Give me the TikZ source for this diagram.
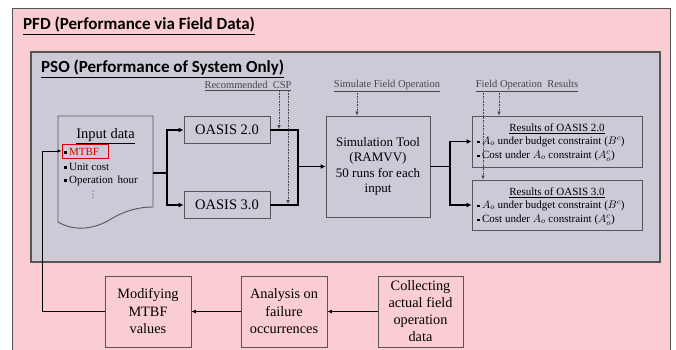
\documentclass[tikz,border=0pt]{standalone}
\usepackage{fontspec}
\setmainfont{Liberation Serif}
\newfontfamily\titlefont{Carlito}
\newfontfamily\symfont{DejaVu Sans}
\usetikzlibrary{arrows.meta}
\definecolor{pinkbg}{RGB}{249,205,209}
\definecolor{graybg}{RGB}{205,201,215}
\definecolor{edge}{RGB}{85,85,85}
\definecolor{labcol}{RGB}{70,70,70}
\begin{document}
\begin{tikzpicture}[x=1pt,y=-1pt,
  box/.style={draw=edge, line width=0.9pt, inner sep=0pt, align=center},
  flow/.style={line width=1.8pt, -{Latex[length=5pt,width=5pt]}},
  flowline/.style={line width=1.8pt},
  thinflow/.style={line width=1.1pt, -{Latex[length=4.5pt,width=4pt]}},
  dotarrow/.style={draw=labcol, densely dotted, line width=0.6pt, -{Latex[length=4pt,width=3.5pt]}},
  lab/.style={font=\fontsize{10.5}{12}\selectfont, text=labcol, inner sep=0pt},
  ttl/.style={font=\titlefont\bfseries\fontsize{17}{19}\selectfont, anchor=base west, inner sep=0pt},
  small/.style={font=\fontsize{11}{13}\selectfont, inner sep=0pt, anchor=base west},
  reslist/.style={font=\fontsize{11}{14}\selectfont, inner sep=0pt, anchor=north west, align=left}
]
\useasboundingbox (0,0) rectangle (676,350);
% frames
\draw[fill=pinkbg, draw=edge, line width=0.9pt] (12,8) rectangle (670,360);
\draw[fill=graybg, draw=edge, line width=1.1pt] (31,52) rectangle (660,262);
\node[ttl] (pfd) at (23,30) {\underline{PFD (Performance via Field Data)}};
\node[ttl] (pso) at (41,73) {\underline{PSO (Performance of System Only)}};

% input document
\draw[draw=edge, line width=0.9pt] (58,116) -- (58,222)
  .. controls (75,232) and (95,229) .. (111,219)
  .. controls (126,210) and (140,207) .. (153,207) -- (153,116) -- cycle;
\node[font=\fontsize{14.5}{17}\selectfont, inner sep=0pt] (inptitle) at (105.5,136) {\underline{Input data}};
\node[draw=red!85!black, line width=0.9pt, minimum width=46pt, minimum height=14pt, inner sep=0pt] (mtbf) at (85,151) {};
\newcommand{\bul}{\rule[0.28ex]{2.4pt}{2.4pt}\hspace{2.5pt}}
\node[small] (b1) at (64,155) {\bul\textcolor{red!85!black}{MTBF}};
\node[small] (b2) at (64,170) {\bul Unit cost};
\node[small] (b3) at (64,183) {\bul Operation\, hour};
\node[font=\symfont\fontsize{9}{10}\selectfont, inner sep=0pt, text=edge] (vd) at (93,195) {⋮};

% OASIS boxes
\node[box, minimum width=86pt, minimum height=27pt, font=\fontsize{14.5}{17}\selectfont] (o2) at (227,130) {OASIS 2.0};
\node[box, minimum width=86pt, minimum height=27pt, font=\fontsize{14.5}{17}\selectfont] (o3) at (227,205) {OASIS 3.0};

% simulation
\node[box, minimum width=104pt, minimum height=101pt, font=\fontsize{13}{15.5}\selectfont] (sim) at (378,166.5) {Simulation Tool\\(RAMVV)\\50 runs for each\\input};

% results
\node[box, minimum width=170pt, minimum height=51pt] (r2) at (557,141.5) {};
\node[box, minimum width=170pt, minimum height=50pt] (r3) at (557,205) {};
\node[font=\fontsize{11}{13}\selectfont, inner sep=0pt] (r2t) at (557,129) {\underline{Results of OASIS 2.0}};
\node[reslist] (r2l) at (477,136.5) {\bul$A_o$ under budget constraint ($B^c$)\\\bul Cost under $A_o$ constraint ($A_o^c$)};
\node[font=\fontsize{11}{13}\selectfont, inner sep=0pt] (r3t) at (557,193) {\underline{Results of OASIS 3.0}};
\node[reslist] (r3l) at (477,200.5) {\bul$A_o$ under budget constraint ($B^c$)\\\bul Cost under $A_o$ constraint ($A_o^c$)};

% labels
\node[lab] (lrec) at (248,86) {\underline{Recommended\ \ CSP}};
\node[lab] (lsim) at (387,86) {\underline{Simulate Field Operation}};
\node[lab] (lres) at (527,86) {\underline{Field Operation\ \ Results}};

% bottom boxes
\node[box, minimum width=86pt, minimum height=71pt, font=\fontsize{14.3}{17.5}\selectfont] (mod) at (148,311.5) {Modifying\\MTBF\\values};
\node[box, minimum width=86pt, minimum height=71pt, font=\fontsize{14.3}{17.5}\selectfont] (ana) at (284,311.5) {Analysis on\\failure\\occurrences};
\node[box, minimum width=85pt, minimum height=71pt, font=\fontsize{14.3}{17}\selectfont] (col) at (420.5,311.5) {Collecting\\actual field\\operation\\data};

% coordinates
\coordinate (inpout) at (153,173);
\coordinate (j1) at (167,173);
\coordinate (j2) at (298,166.5);
\coordinate (j3) at (450,166.5);
\coordinate (fb) at (42,311.5);
\coordinate (d1) at (279,91);
\coordinate (d1e) at (279,129);
\coordinate (d2) at (288,91);
\coordinate (d2e) at (288,204);
\coordinate (d3) at (357,91);
\coordinate (d4) at (499,91);
\coordinate (d5) at (483,91);

% flow connectors
\draw[flowline] (inpout) -- (j1);
\draw[flow] (j1) |- (o2.west);
\draw[flow] (j1) |- (o3.west);
\draw[flowline] (o2.east) -| (j2);
\draw[flowline] (o3.east) -| (j2);
\draw[flow] (j2) -- (sim.west);
\draw[flowline] (sim.east) -- (j3);
\draw[flow] (j3) |- (r2.west);
\draw[flow] (j3) |- (r3.west);

% bottom chain
\draw[thinflow] (col.west) -- (ana.east);
\draw[thinflow] (ana.west) -- (mod.east);
\draw[line width=1pt, -{Latex[length=4pt,width=3.5pt]}] (mod.west) -- (fb) |- (mtbf.west);

% dotted arrows
\draw[dotarrow] (d1) -- (d1e);
\draw[dotarrow] (d2) -- (d2e);
\draw[dotarrow] (d3) -- (d3 |- sim.north);
\draw[dotarrow] (d4) -- (d4 |- r2.north);
\draw[dotarrow] (d5) -- (d5 |- r3.north);
\end{tikzpicture}
\end{document}
